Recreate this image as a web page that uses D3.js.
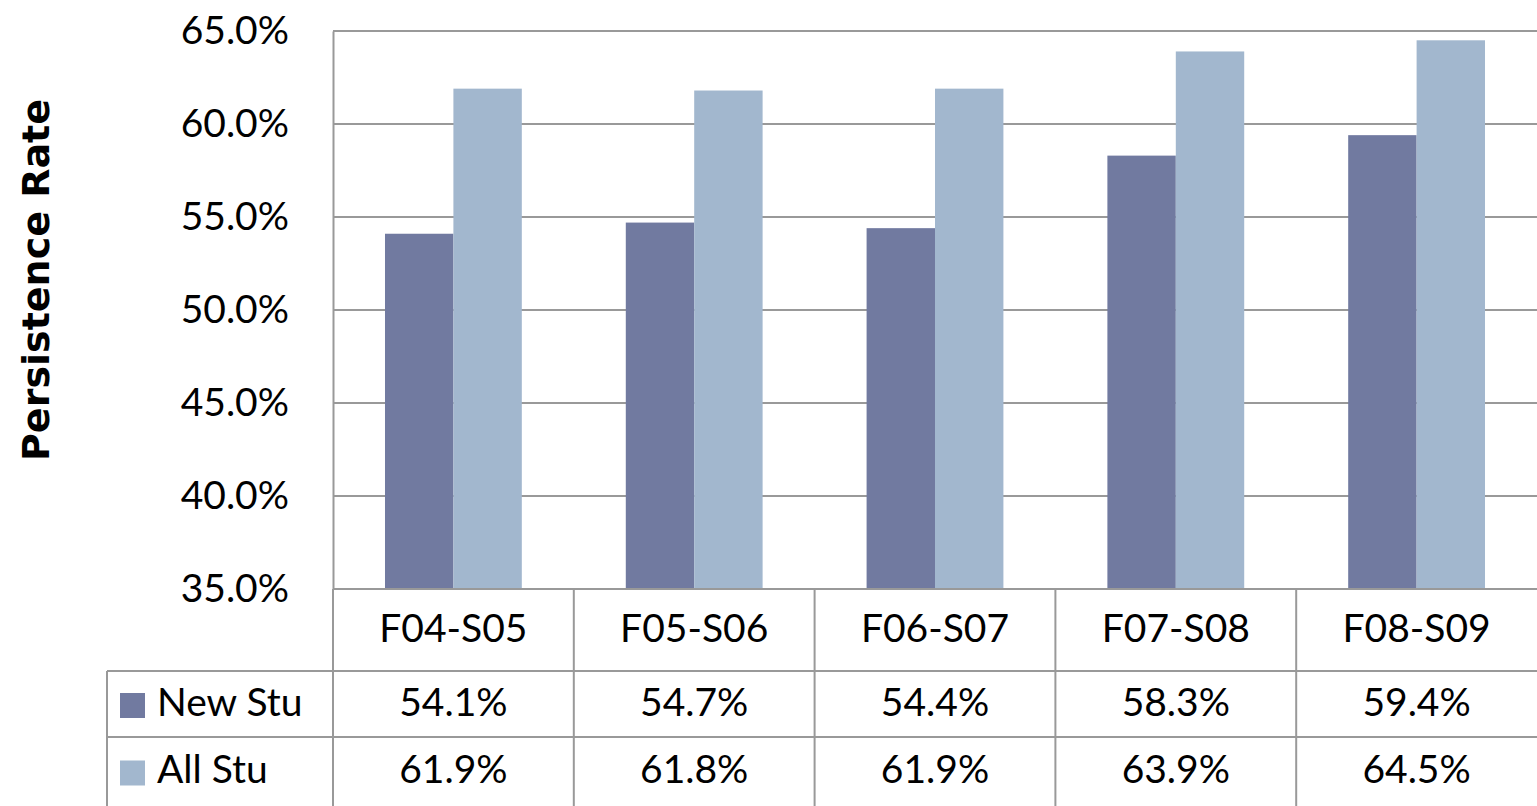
<!DOCTYPE html>
<html>
<head>
<meta charset="utf-8">
<style>
  body { margin: 0; background: #fff; }
  text { font-family: Lato, "Open Sans", sans-serif; fill: #000; }
</style>
</head>
<body>
<svg id="chart" width="1537" height="806"></svg>
<script src="https://cdnjs.cloudflare.com/ajax/libs/d3/7.8.5/d3.min.js"></script>
<script>

// data
var categories = ['F04-S05', 'F05-S06', 'F06-S07', 'F07-S08', 'F08-S09'];
var seriesNames = ['New Stu', 'All Stu'];
var newStu = [54.1, 54.7, 54.4, 58.3, 59.4];
var allStu = [61.9, 61.8, 61.9, 63.9, 64.5];
var yTicks = [35, 40, 45, 50, 55, 60, 65];
var colors = ['#717aa0', '#a2b7ce'];

var series = [newStu, allStu];

var svg = d3.select('#chart');

var plotLeft = 333, plotRight = 1537, plotTop = 31, plotBottom = 589;
var rowLines = [589, 671, 737, 806];
var tableLeft = 107;
var lineColor = '#999';

var x = d3.scaleBand()
  .domain(categories)
  .range([plotLeft, plotRight])
  .paddingInner(0)
  .paddingOuter(0);

var x1 = d3.scaleBand()
  .domain(seriesNames)
  .range([0, x.bandwidth()])
  .paddingInner(0)
  .paddingOuter(0.76);

var y = d3.scaleLinear()
  .domain([35, 65])
  .range([plotBottom, plotTop]);

// gridlines
svg.append('g').selectAll('line')
  .data(yTicks)
  .enter().append('line')
  .attr('x1', plotLeft).attr('x2', plotRight)
  .attr('y1', function(d){ return y(d); })
  .attr('y2', function(d){ return y(d); })
  .attr('stroke', lineColor)
  .attr('stroke-width', 2);

// bars
seriesNames.forEach(function(s, si){
  svg.append('g').selectAll('rect')
    .data(series[si])
    .enter().append('rect')
    .attr('x', function(d, i){ return x(categories[i]) + x1(s); })
    .attr('width', x1.bandwidth())
    .attr('y', function(d){ return y(d); })
    .attr('height', function(d){ return y(35) - y(d); })
    .attr('fill', colors[si]);
});

// y axis
var yAxis = d3.axisLeft(y)
  .tickValues(yTicks)
  .tickSize(0)
  .tickPadding(44)
  .tickFormat(function(d){ return d3.format('.1f')(d) + '%'; });

var ag = svg.append('g')
  .attr('transform', 'translate(' + plotLeft + ',0)')
  .call(yAxis);
ag.select('.domain').attr('stroke', lineColor).attr('stroke-width', 2);
ag.selectAll('text')
  .style('font-family', 'Lato, sans-serif')
  .style('font-size', '39px')
  .attr('fill', '#000');

// axis title
svg.append('text')
  .attr('transform', 'translate(49,280) rotate(-90)')
  .attr('text-anchor', 'middle')
  .style('font-family', '"DejaVu Sans", sans-serif')
  .style('font-weight', 'bold')
  .style('font-size', '38px')
  .text('Persistence Rate');

// data table
var tg = svg.append('g');

// horizontal lines
tg.append('line')
  .attr('x1', plotLeft).attr('x2', plotRight)
  .attr('y1', rowLines[0]).attr('y2', rowLines[0])
  .attr('stroke', lineColor).attr('stroke-width', 2);
[rowLines[1], rowLines[2]].forEach(function(yy){
  tg.append('line')
    .attr('x1', tableLeft).attr('x2', plotRight)
    .attr('y1', yy).attr('y2', yy)
    .attr('stroke', lineColor).attr('stroke-width', 2);
});

// vertical lines
var bounds = categories.map(function(c){ return x(c); });
bounds.forEach(function(xx){
  tg.append('line')
    .attr('x1', xx).attr('x2', xx)
    .attr('y1', rowLines[0]).attr('y2', rowLines[3])
    .attr('stroke', lineColor).attr('stroke-width', 2);
});
tg.append('line')
  .attr('x1', tableLeft).attr('x2', tableLeft)
  .attr('y1', rowLines[1]).attr('y2', rowLines[3])
  .attr('stroke', lineColor).attr('stroke-width', 2);

// category labels
tg.selectAll('text.cat')
  .data(categories)
  .enter().append('text')
  .attr('class', 'cat')
  .attr('x', function(d){ return x(d) + x.bandwidth() / 2; })
  .attr('y', (rowLines[0] + rowLines[1]) / 2 + 2)
  .attr('text-anchor', 'middle')
  .attr('dominant-baseline', 'middle')
  .style('font-size', '39px')
  .text(function(d){ return d; });

// series rows
seriesNames.forEach(function(s, si){
  var cy = (rowLines[si + 1] + rowLines[si + 2]) / 2 + 2;
  tg.append('rect')
    .attr('x', 120).attr('y', cy - 13)
    .attr('width', 25).attr('height', 25)
    .attr('fill', colors[si]);
  tg.append('text')
    .attr('x', 157).attr('y', cy)
    .attr('dominant-baseline', 'middle')
    .style('font-size', '39px')
    .text(s);
  tg.selectAll('text.v' + si)
    .data(series[si])
    .enter().append('text')
    .attr('class', 'v' + si)
    .attr('x', function(d, i){ return x(categories[i]) + x.bandwidth() / 2; })
    .attr('y', cy)
    .attr('text-anchor', 'middle')
    .attr('dominant-baseline', 'middle')
    .style('font-size', '39px')
    .text(function(d){ return d3.format('.1f')(d) + '%'; });
});

</script>
</body>
</html>
